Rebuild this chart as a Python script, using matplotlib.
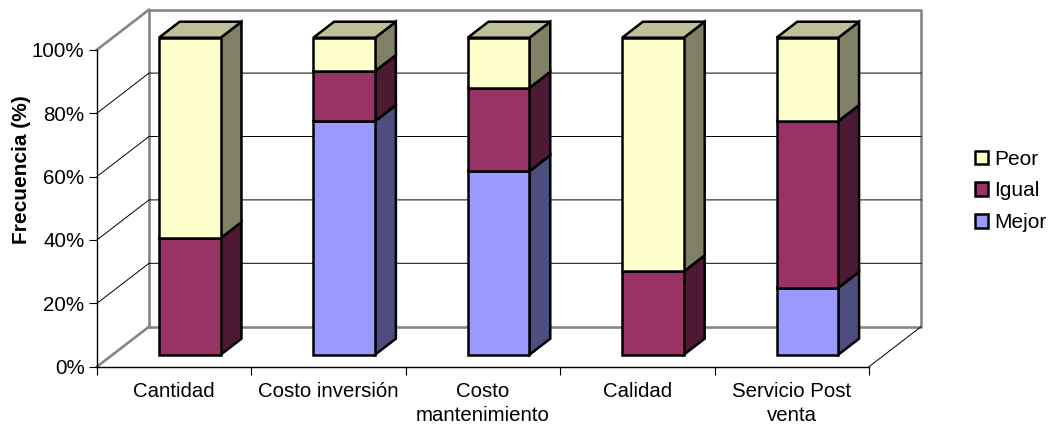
#%%
import numpy as np
import matplotlib
matplotlib.use('Agg')
import matplotlib.pyplot as plt
from matplotlib.patches import Patch, Polygon

plt.rcParams['font.family'] = ['Liberation Sans', 'DejaVu Sans']

# %%
categories = ['Cantidad', 'Costo inversión', 'Costo\nmantenimiento', 'Calidad', 'Servicio Post\nventa']
mejor = [0.0, 73.7, 57.9, 0.0, 21.1]
igual = [36.8, 15.8, 26.3, 26.3, 52.6]
peor = [63.2, 10.5, 15.8, 73.7, 26.3]
yticks = [0, 20, 40, 60, 80, 100]
yticklabels = ['0%', '20%', '40%', '60%', '80%', '100%']

series = [('Mejor', mejor, '#9999FF', '#4D4D80', '#7373BF'),
          ('Igual', igual, '#993366', '#4D1A33', '#73264D'),
          ('Peor', peor, '#FFFFCC', '#808066', '#BFBF99')]

# %%
W, H = 1052, 426
fig = plt.figure(figsize=(W/100, H/100), dpi=100)
x0, x1, y0, y1 = 97, 869, 366.7, 49.7
ax = fig.add_axes([x0/W, 1-y0/H, (x1-x0)/W, (y0-y1)/H])
ax.set_xlim(0, 5)
ax.set_ylim(0, 100)

# depth of the fake 3D box, in data units
DX = 52/((x1-x0)/5)
DY = 40/((y0-y1)/100)

def proj(x, y, d):
    return (x + d*DX, y + d*DY)

# %%
# walls
gray = '#868686'
ax.plot([DX, DX, 5+DX, 5+DX, DX], [DY, 100+DY, 100+DY, DY, DY], color=gray, lw=1.9, clip_on=False, zorder=1)
ax.plot([0, DX], [0, DY], color=gray, lw=1.9, clip_on=False, zorder=1)
ax.plot([0, DX], [100, 100+DY], color=gray, lw=1.9, clip_on=False, zorder=1)
ax.plot([5, 5+DX], [0, DY], color='k', lw=0.7, clip_on=False, zorder=1)
for t in yticks[1:-1]:
    ax.plot([0, DX, 5+DX], [t, t+DY, t+DY], color='k', lw=0.7, clip_on=False, zorder=1)

# %%
# bars
bar_w = 0.4
d0, d1 = 0.3, 0.7
for i in range(len(categories)):
    left = i + 0.5 - bar_w/2
    right = left + bar_w
    base = 0.0
    for name, vals, c_front, c_side, c_top in series:
        v = vals[i]
        if v == 0:
            continue
        top = base + v
        front = [proj(left, base, d0), proj(right, base, d0), proj(right, top, d0), proj(left, top, d0)]
        side = [proj(right, base, d0), proj(right, base, d1), proj(right, top, d1), proj(right, top, d0)]
        lid = [proj(left, top, d0), proj(right, top, d0), proj(right, top, d1), proj(left, top, d1)]
        for pts, col in [(side, c_side), (lid, c_top), (front, c_front)]:
            ax.add_patch(Polygon(pts, closed=True, facecolor=col, edgecolor='k', lw=1.8,
                                 joinstyle='miter', clip_on=False, zorder=3))
        base = top

# %%
for s in ['top', 'right']:
    ax.spines[s].set_visible(False)
for s in ['left', 'bottom']:
    ax.spines[s].set_linewidth(1.0)
    ax.spines[s].set_zorder(2)

ax.set_yticks(yticks)
ax.set_yticklabels(yticklabels, fontsize=14.8)
ax.set_xticks(np.arange(6))
ax.set_xticklabels([])
ax.set_xticks(np.arange(5)+0.5, minor=True)
ax.set_xticklabels(categories, minor=True, fontsize=14.7, linespacing=1.35)
ax.tick_params(axis='x', which='minor', length=0, pad=11)
ax.tick_params(axis='both', which='major', length=6, width=0.8)
ax.tick_params(axis='y', pad=3)
ax.set_ylabel('Frecuencia (%)', fontsize=15, fontweight='bold')
ax.yaxis.set_label_coords((31-x0)/(x1-x0), (y0-170)/(y0-y1))

handles = [Patch(facecolor=c, edgecolor='k', lw=1.8, label=n) for n, _, c, _, _ in series[::-1]]
ax.legend(handles=handles, loc='center left', bbox_to_anchor=((975-x0)/(x1-x0), (y0-191)/(y0-y1)),
          frameon=False, fontsize=15, handlelength=0.62, handleheight=0.62, handletextpad=0.3,
          labelspacing=0.62, borderaxespad=0, borderpad=0)

fig.savefig('out.png', dpi=100)
